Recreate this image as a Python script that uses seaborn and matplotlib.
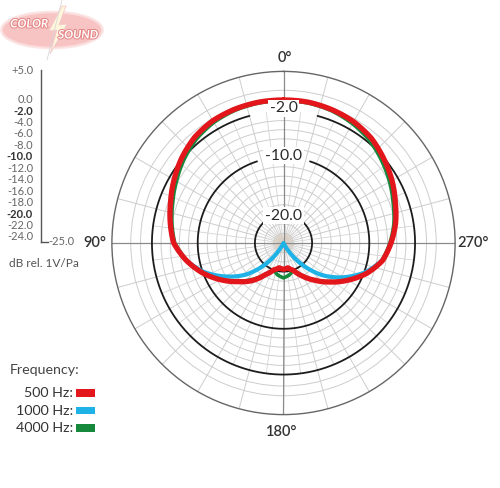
import numpy as np
import pandas as pd
import matplotlib
matplotlib.use("Agg")
import matplotlib.pyplot as plt
from matplotlib.patches import Rectangle, Ellipse, Polygon
import matplotlib.patheffects as pe
import seaborn as sns

sns.set_style("white")
plt.rcParams['font.family'] = ['Lato', 'DejaVu Sans']

# ---------------- data ----------------
angles_deg = [0, 10, 20, 30, 40, 50, 60, 70, 80, 90, 100, 110, 120, 130, 140, 150, 160, 170,
              180, 190, 200, 210, 220, 230, 240, 250, 260, 270, 280, 290, 300, 310, 320, 330, 340, 350]

db_500 = [0.0, 0.0, -0.1, -0.3, -0.85, -1.8, -2.9, -4.0, -4.9, -5.8, -7.7, -9.85, -12.2, -14.5, -16.4, -18.6, -20.0, -20.6,
          -20.4, -20.6, -19.9, -18.3, -16.5, -14.4, -12.0, -9.5, -7.4, -6.2, -5.1, -4.2, -3.1, -2.1, -1.1, -0.5, -0.2, 0.0]

db_1000 = [0.0, 0.0, -0.1, -0.3, -0.85, -1.8, -2.9, -4.0, -4.9, -5.8, -7.7, -10.2, -13.3, -16.4, -20.3, -24.2, -25.0, -25.0,
           -25.0, -25.0, -25.0, -24.2, -20.3, -16.3, -13.0, -9.9, -7.5, -6.2, -5.1, -4.2, -3.1, -2.1, -1.1, -0.5, -0.2, 0.0]

db_4000 = [-0.1, -0.15, -0.3, -0.65, -1.3, -2.3, -3.4, -4.4, -5.2, -6.0, -7.8, -9.9, -12.2, -14.6, -16.7, -18.7, -20.0, -19.3,
           -18.9, -19.3, -20.0, -18.4, -16.6, -14.5, -12.1, -9.6, -7.5, -6.4, -5.4, -4.6, -3.6, -2.6, -1.6, -0.9, -0.4, -0.15]

freq_labels = ["500 Hz:", "1000 Hz:", "4000 Hz:"]
freq_colors = ["#e3161b", "#1fb2e6", "#16893c"]
freq_widths = [3.8, 3.0, 2.6]

ring_labels_db = [-2, -10, -20]
ring_label_text = ["-2.0", "-10.0", "-20.0"]
ring_gaps_deg = [15, 18, 42]
gray_rings_db = [-23.33, -21.67, -18.33, -16.67, -15.0, -13.33, -11.67,
                 -8.4, -6.8, -5.2, -3.6, 0.0, 1.7]

scale_major = [-2, -10, -20]
scale_minor = [5, 0, -4, -6, -8, -12, -14, -16, -18, -22, -24]

angle_labels = ["0°", "90°", "180°", "270°"]

# ---------------- long-form table ----------------
rows = []
for lab, vals in zip(freq_labels, [db_500, db_1000, db_4000]):
    a_closed = angles_deg + [360]
    v_closed = vals + [vals[0]]
    for a, v in zip(a_closed, v_closed):
        rows.append({"freq": lab, "theta": np.deg2rad(a), "db": v})
df = pd.DataFrame(rows)

# ---------------- figure ----------------
W, H = 500, 488
fig = plt.figure(figsize=(W / 100, H / 100), dpi=100)
cx, cy, R = 283.5, 243.0, 171.6
ax = fig.add_axes([(cx - R) / W, (H - cy - R) / H, 2 * R / W, 2 * R / H], projection='polar')
ax.set_theta_zero_location('N')
ax.set_theta_direction(1)
ax.set_ylim(-25, 5)
ax.set_xticks(np.deg2rad(np.arange(0, 360, 15)))
ax.set_xticklabels([])
ax.set_yticks(gray_rings_db)
ax.set_yticklabels([])
ax.grid(True, color='#cdcdcd', linewidth=0.7)
ax.set_axisbelow(True)
ax.spines['polar'].set_color('#666666')
ax.spines['polar'].set_linewidth(1.0)

# extra inner radial lines
for t in np.arange(7.5, 360, 15):
    ax.plot([np.deg2rad(t)] * 2, [-23.3, -2], color='#d4d4d4', lw=0.6, zorder=1)
# starburst at centre
for t in np.arange(0, 360, 5):
    ax.plot([np.deg2rad(t)] * 2, [-25, -23.3], color='#d9cfc4', lw=0.5, zorder=1)
# main axis lines
for t in [0, 90, 180, 270]:
    ax.plot([np.deg2rad(t)] * 2, [-25, 5], color='#8a8a8a', lw=0.9, zorder=1.5)
# black labelled rings (arcs with a gap at the top)
for db, gap in zip(ring_labels_db, ring_gaps_deg):
    th = np.deg2rad(np.linspace(gap, 360 - gap, 400))
    ax.plot(th, np.full_like(th, db), color='#1c1c1c', lw=1.3, zorder=2)

# curves: green, blue, red (red on top)
for lab, col, lw in [(freq_labels[2], freq_colors[2], freq_widths[2]),
                     (freq_labels[1], freq_colors[1], freq_widths[1]),
                     (freq_labels[0], freq_colors[0], freq_widths[0])]:
    sns.lineplot(data=df[df["freq"] == lab], x="theta", y="db", sort=False, estimator=None,
                 color=col, linewidth=lw, ax=ax, solid_joinstyle='round', solid_capstyle='round')
    # let the polar transform draw each segment as a smooth (theta, r) curve
    ax.lines[-1].get_path()._interpolation_steps = 16
ax.set_xlabel("")
ax.set_ylabel("")

# ---------------- left dB scale ----------------
x0, ytop, ybot = 41.0, 70.0, 241.7
ax_s = fig.add_axes([x0 / W, (H - ybot) / H, 7 / W, (ybot - ytop) / H])
ax_s.set_ylim(-25, 5)
ax_s.set_xlim(0, 1)
ax_s.patch.set_visible(False)
for s in ['top', 'right']:
    ax_s.spines[s].set_visible(False)
for s in ['left', 'bottom']:
    ax_s.spines[s].set_color('#555555')
    ax_s.spines[s].set_linewidth(1.0)
ax_s.set_xticks([])

def fmt(v):
    return "+%.1f" % v if v > 0 else "%.1f" % v

ax_s.set_yticks(scale_major, labels=[fmt(v) for v in scale_major])
ax_s.set_yticks(scale_minor, labels=[fmt(v) for v in scale_minor], minor=True)
ax_s.tick_params(axis='y', which='major', direction='inout', length=9, width=1.3,
                 pad=1.5, labelsize=8, labelcolor='#333333', color='#333333')
ax_s.tick_params(axis='y', which='minor', direction='out', length=3, width=0.8,
                 pad=2.5, labelsize=8, labelcolor='#666666', color='#777777')
for t in ax_s.get_yticklabels():
    t.set_fontweight('bold')

# ---------------- overlay for free text ----------------
ov = fig.add_axes([0, 0, 1, 1])
ov.set_xlim(0, W)
ov.set_ylim(H, 0)
ov.axis('off')

ov.text(48.5, 241.5, "-25.0", ha='left', va='center', fontsize=8, color='#666666')
ov.text(9, 263.5, "dB rel. 1V/Pa", ha='left', va='center', fontsize=8.6, color='#555555')

for txt, (x, y) in zip(angle_labels, [(285, 58), (95, 243), (282, 432), (473, 243)]):
    ov.text(x, y, txt, ha='center', va='center', fontsize=10.5, color='#333333', fontweight='semibold')

for txt, y in zip(ring_label_text, [108.5, 155.5, 215.5]):
    ov.text(cx, y, txt, ha='center', va='center', fontsize=11.3, color='#2a2a2a',
            bbox=dict(boxstyle='square,pad=0.1', fc='white', ec='none'))

# legend
ov.text(10, 370, "Frequency:", ha='left', va='center', fontsize=10.3, color='#444444')
for lab, col, y in zip(freq_labels, freq_colors, [393, 410.7, 428]):
    ov.text(73, y, lab, ha='right', va='center', fontsize=10.3, color='#333333')
    ov.add_patch(Rectangle((76, y - 3.6), 19, 7.2, facecolor=col, edgecolor='none'))

# logo (faint)
ov.add_patch(Ellipse((52, 30), 101, 36, facecolor='#f6b4b4', edgecolor='#fbe0e0', lw=2.0, alpha=0.8))
ov.plot([62, 47], [0, 60], color='#d8d8d8', lw=0.6)
ov.add_patch(Polygon([(62, 6), (49, 31), (57, 30), (50, 54), (67, 24), (59, 25), (66, 6)],
                     closed=True, facecolor='#fff6dc', edgecolor='#f2cccc', lw=0.6))
for txt, (x, y) in zip(["COLOR", "SOUND"], [(29, 24), (78, 35)]):
    ov.text(x, y, txt, ha='center', va='center', fontsize=8.5, color='white', fontweight='bold',
            fontstyle='italic', path_effects=[pe.withStroke(linewidth=1.4, foreground='#e58585')])

fig.savefig("out.png", dpi=100)
